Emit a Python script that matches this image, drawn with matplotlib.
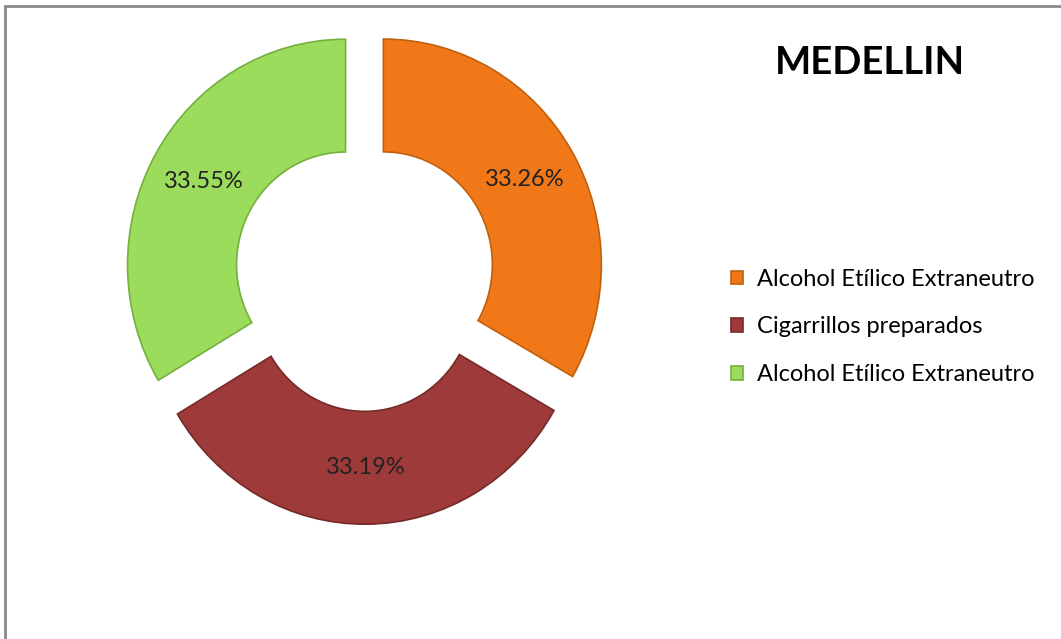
import matplotlib
matplotlib.use("Agg")
from matplotlib import pyplot as plt
from matplotlib.patches import Rectangle

# Data
labels = ['Alcohol Etílico Extraneutro', 'Cigarrillos preparados', 'Alcohol Etílico Extraneutro']
values = [33.26, 33.19, 33.55]
colors = ['#F07818', '#9E3B3A', '#9CDC5C']
edges = ['#C0600F', '#742A29', '#74B03F']
title = 'MEDELLIN'

W, H = 1061, 639
fig = plt.figure(figsize=(W / 100, H / 100), dpi=100)

# pie axes covers whole figure; radius 1 maps to about 218 px across
cx, cy, rpx, stretch = 364.5, 276, 218.0, 1.035
ax = fig.add_axes([0, 0, 1, 1])
wedges, texts, autotexts = ax.pie(
    values, colors=colors, startangle=90, counterclock=False,
    explode=[0.1] * len(values), radius=1, pctdistance=0.75,
    autopct='%.2f%%',
    wedgeprops=dict(width=0.5, linewidth=1.2),
    textprops=dict(fontsize=17, color='#222222', family='Lato'))
for w, e in zip(wedges, edges):
    w.set_edgecolor(e)

ax.set_aspect('auto')
ax.set_xlim(-cx / rpx, (W - cx) / rpx)
ax.set_ylim(-(H - cy) / (rpx * stretch), cy / (rpx * stretch))
ax.axis('off')

fig.text(870 / W, 1 - 63 / H, title, ha='center', va='center',
         fontsize=27.5, fontweight='bold', family='Lato')

fig.legend(wedges, labels, loc='center left',
           bbox_to_anchor=(731 / W, 1 - 327 / H),
           frameon=False, prop={'family': 'Lato', 'size': 17},
           handlelength=0.5, handleheight=0.5, handletextpad=0.6,
           labelspacing=1.13, borderpad=0, borderaxespad=0)

# gray frame around the chart area (right and bottom are cut off)
fig.add_artist(Rectangle((5 / W, -0.1), 1.2, 1.1 - 6 / H,
                         transform=fig.transFigure, fill=False,
                         edgecolor='#8a8a8a', linewidth=2))

plt.savefig('out.png', dpi=100)
